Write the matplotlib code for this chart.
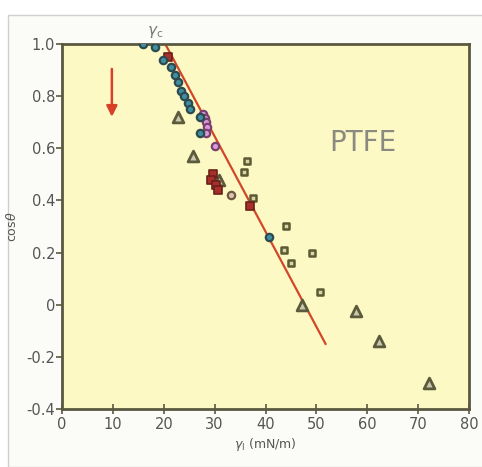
import matplotlib.pyplot as plt
from matplotlib.patches import Rectangle

# data
blue_x = [16.0, 18.3, 19.8, 21.4, 22.2, 22.8, 23.4, 24.0, 24.8, 25.2, 27.1, 27.1, 40.6]
blue_y = [1.0, 0.99, 0.94, 0.91, 0.88, 0.855, 0.82, 0.80, 0.775, 0.75, 0.72, 0.66, 0.26]

pink_x = [27.7, 28.1, 28.4, 28.5, 28.3, 30.0]
pink_y = [0.73, 0.715, 0.70, 0.68, 0.66, 0.61]

tan_x = [33.3]
tan_y = [0.42]

red_x = [20.8, 29.6, 29.2, 30.2, 30.6, 36.9]
red_y = [0.95, 0.50, 0.48, 0.46, 0.44, 0.38]

sq_x = [36.3, 35.8, 37.6, 44.1, 43.7, 49.1, 45.0, 50.7]
sq_y = [0.55, 0.51, 0.41, 0.30, 0.21, 0.20, 0.16, 0.05]

tri_x = [22.8, 25.8, 30.8, 47.2, 57.8, 62.3, 72.1]
tri_y = [0.72, 0.57, 0.48, 0.0, -0.025, -0.14, -0.30]

fit_x = [20.3, 51.8]
fit_y = [1.0, -0.15]

fig = plt.figure(figsize=(4.82, 4.67), dpi=100)
fig.patch.set_facecolor('white')
# light framed panel behind the chart
fig.patches.append(Rectangle((8 / 482, 0.0), 1.0, 1 - 15 / 467, transform=fig.transFigure,
                             facecolor='#fbfbf7', edgecolor='#cfcfcf', linewidth=1.0, zorder=-1))

ax = fig.add_axes([62 / 482, 1 - 409 / 467, (469 - 62) / 482, (409 - 44) / 467])
ax.set_facecolor('#fdf9c4')

ax.plot(fit_x, fit_y, color='#d2472a', linewidth=1.6, zorder=2)

ax.scatter(tri_x, tri_y, marker='^', s=60, facecolor='#c9c8ad', edgecolor='#5c5a3c', linewidth=2, zorder=3)
ax.scatter(sq_x, sq_y, marker='s', s=24, facecolor='#d8d6a6', edgecolor='#5c5a33', linewidth=1.8, zorder=3)
ax.scatter(red_x, red_y, marker='s', s=26, facecolor='#a8302a', edgecolor='#6a2018', linewidth=1.2, zorder=4)
ax.scatter(tan_x, tan_y, marker='o', s=28, facecolor='#e0c0b0', edgecolor='#6a5a40', linewidth=1.6, zorder=4)
ax.scatter(pink_x, pink_y, marker='o', s=28, facecolor='#d89ad8', edgecolor='#7a4070', linewidth=1.6, zorder=4)
ax.scatter(blue_x, blue_y, marker='o', s=28, facecolor='#3f8fa0', edgecolor='#2c4a50', linewidth=1.6, zorder=5)

ax.set_xlim(0, 80)
ax.set_ylim(-0.4, 1.0)
ax.set_xticks(range(0, 81, 10))
ax.set_yticks([1.0, 0.8, 0.6, 0.4, 0.2, 0, -0.2, -0.4])
ax.set_yticklabels(['1.0', '0.8', '0.6', '0.4', '0.2', '0', '-0.2', '-0.4'])

for sp in ax.spines.values():
    sp.set_color('#5a5840')
    sp.set_linewidth(2)
ax.tick_params(axis='x', direction='inout', length=7, width=1.2, color='#5a5840',
               labelsize=10.5, labelcolor='#555555', pad=2)
ax.tick_params(axis='y', direction='out', length=4, width=1.2, color='#5a5840',
               labelsize=10.5, labelcolor='#555555', pad=1)

ax.set_xlabel(r'$\gamma_\mathrm{l}$ (mN/m)', fontsize=9, color='#555555', labelpad=3)
ax.set_ylabel(r'cos$\theta$', fontsize=9, color='#555555')
ax.yaxis.set_label_coords(-0.105, 0.5)

ax.text(0.74, 0.73, 'PTFE', transform=ax.transAxes, fontsize=20, color='#8a8a80',
        ha='center', va='center')
ax.text(18.3, 1.015, r'$\gamma_\mathrm{c}$', fontsize=11, color='#777777',
        ha='center', va='bottom', clip_on=False)

ax.annotate('', xy=(9.8, 0.71), xytext=(9.8, 0.915),
            arrowprops=dict(arrowstyle='-|>', color='#d8402a', lw=1.8, mutation_scale=16))

fig.savefig('out.png', dpi=100)
